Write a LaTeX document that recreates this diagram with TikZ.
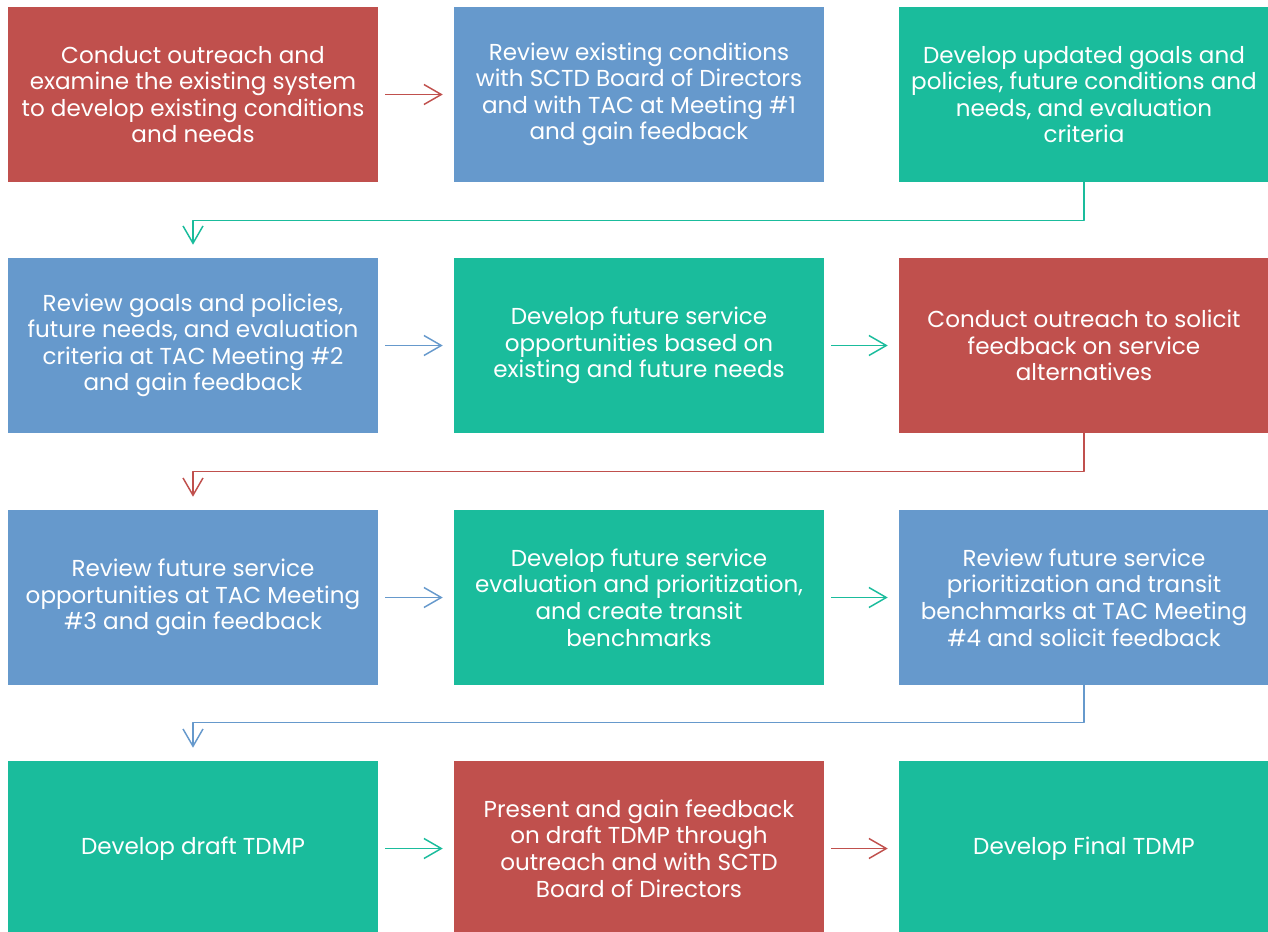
\documentclass[tikz,border=0pt]{standalone}
\usepackage{fontspec}
\setmainfont{Poppins}
\usetikzlibrary{arrows.meta}
\definecolor{stepred}{HTML}{C0504D}
\definecolor{stepblue}{HTML}{6699CC}
\definecolor{stepteal}{HTML}{1ABC9C}
\begin{document}
\begin{tikzpicture}[x=0.75pt, y=-0.75pt, font=\fontsize{17.3}{19.9}\selectfont, line join=round, >={Straight Barb[length=13pt,width=15pt]},
	box/.style={minimum width=277.5pt, minimum height=131.25pt, align=center, text=white, inner sep=0pt},
	link/.style={->, line width=1.1pt, shorten <=5.25pt, shorten >=8.25pt},
	turn/.style={->, line width=1.1pt, shorten >=9.75pt}]
	\useasboundingbox (0,0) rectangle (1268,932);
	\path
	(193,94.5) node[box, fill=stepred] (s1) {Conduct outreach and\\examine the existing system\\to develop existing conditions\\and needs}
	(639,94.5) node[box, fill=stepblue] (s2) {Review existing conditions\\with SCTD Board of Directors\\and with TAC at Meeting \#1\\and gain feedback}
	(1084,94.5) node[box, fill=stepteal] (s3) {Develop updated goals and\\policies, future conditions and\\needs, and evaluation\\criteria}
	(193,345.5) node[box, fill=stepblue] (s4) {Review goals and policies,\\future needs, and evaluation\\criteria at TAC Meeting \#2\\and gain feedback}
	(639,345.5) node[box, fill=stepteal] (s5) {Develop future service\\opportunities based on\\existing and future needs}
	(1084,345.5) node[box, fill=stepred] (s6) {Conduct outreach to solicit\\feedback on service\\alternatives}
	(193,597.5) node[box, fill=stepblue] (s7) {Review future service\\opportunities at TAC Meeting\\\#3 and gain feedback}
	(639,597.5) node[box, fill=stepteal] (s8) {Develop future service\\evaluation and prioritization,\\and create transit\\benchmarks}
	(1084,597.5) node[box, fill=stepblue] (s9) {Review future service\\prioritization and transit\\benchmarks at TAC Meeting\\\#4 and solicit feedback}
	(193,848.5) node[box, fill=stepteal] (s10) {Develop draft TDMP}
	(639,848.5) node[box, fill=stepred] (s11) {Present and gain feedback\\on draft TDMP through\\outreach and with SCTD\\Board of Directors}
	(1084,848.5) node[box, fill=stepteal] (s12) {Develop Final TDMP};
	\draw[link, stepred] (s1)--(s2);
	\draw[turn, stepteal] (s3.south)--++(0,38)-|(s4.north);
	\draw[link, stepblue] (s4)--(s5);
	\draw[link, stepteal] (s5)--(s6);
	\draw[turn, stepred] (s6.south)--++(0,38)-|(s7.north);
	\draw[link, stepblue] (s7)--(s8);
	\draw[link, stepteal] (s8)--(s9);
	\draw[turn, stepblue] (s9.south)--++(0,37)-|(s10.north);
	\draw[link, stepteal] (s10)--(s11);
	\draw[link, stepred] (s11)--(s12);
\end{tikzpicture}
\end{document}
